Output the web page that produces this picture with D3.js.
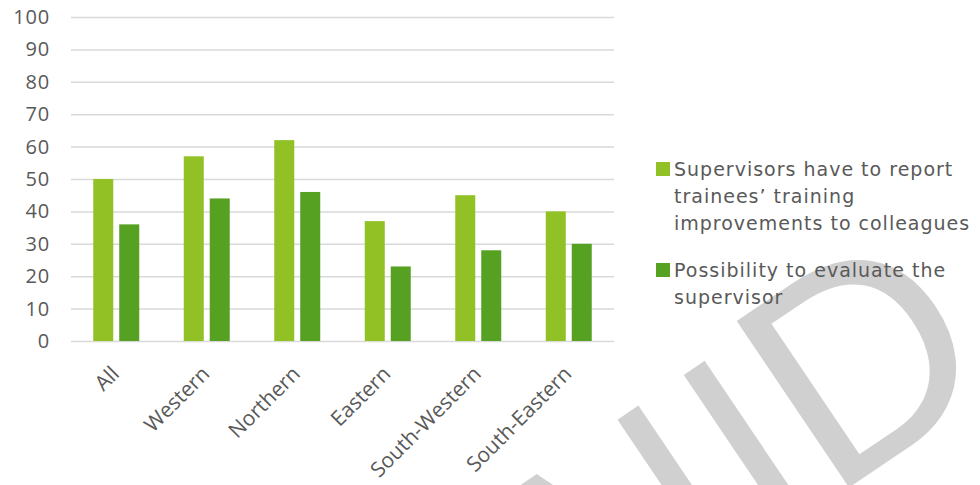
<!DOCTYPE html>
<html>
<head>
<meta charset="utf-8">
<script src="https://cdn.jsdelivr.net/npm/d3@7"></script>
<style>
  body { margin: 0; background: #fff; }
  svg { display: block; }
</style>
</head>
<body>
<div id="chart"></div>
<script>
// chart data
var categories = ["All", "Western", "Northern", "Eastern", "South-Western", "South-Eastern"];
var seriesNames = ["report", "evaluate"];
var reportValues = [50, 57, 62, 37, 45, 40];
var evaluateValues = [36, 44, 46, 23, 28, 30];
var yTicks = [0, 10, 20, 30, 40, 50, 60, 70, 80, 90, 100];
var legendLabels = [
    ["Supervisors have to report", "trainees\u2019 training", "improvements to colleagues"],
    ["Possibility to evaluate the", "supervisor"]
];
var watermarkParts = ["INVAL", "I", "D"];

var svgWidth = 980;
var svgHeight = 485;

var plot = { left: 71, right: 614, top: 17, bottom: 341 };
var colors = { report: "#92c126", evaluate: "#56a022" };
var textColor = "#595959";

var svg = d3.select("#chart")
    .append("svg")
    .attr("width", svgWidth)
    .attr("height", svgHeight);

// watermark behind everything
var wm = svg.append("text")
    .attr("transform", "translate(1004,383) rotate(-34)")
    .attr("text-anchor", "end")
    .attr("font-family", "Liberation Sans, Arial, sans-serif")
    .attr("font-size", 270)
    .attr("fill", "#d0d0d0");
wm.append("tspan").text(watermarkParts[0]);
wm.append("tspan").attr("dx", -73).text(watermarkParts[1]);
wm.append("tspan").attr("font-size", 292).text(watermarkParts[2]);

var yScale = d3.scaleLinear()
    .domain([0, 100])
    .range([plot.bottom, plot.top]);

var x0 = d3.scaleBand()
    .domain(categories)
    .range([plot.left, plot.right])
    .paddingInner(0.492)
    .paddingOuter(0.246);

var x1 = d3.scaleBand()
    .domain(seriesNames)
    .range([0, x0.bandwidth()])
    .paddingInner(0.23);

// y axis with gridlines
var leftAxis = d3.axisLeft(yScale)
    .tickValues(yTicks)
    .tickSize(-(plot.right - plot.left))
    .tickPadding(21);

var yAxis = svg.append("g")
    .attr("transform", `translate(${plot.left},0)`)
    .call(leftAxis);

yAxis.select(".domain").remove();
yAxis.selectAll(".tick line")
    .attr("stroke", "#d9d9d9")
    .attr("stroke-width", 1.5);
yAxis.selectAll(".tick text")
    .attr("fill", textColor)
    .attr("font-family", "Open Sans, sans-serif")
    .attr("font-size", 20)
    .attr("letter-spacing", "0.8px");

// bars
var rows = categories.map(function(c, i) {
    return { cat: c, report: reportValues[i], evaluate: evaluateValues[i] };
});

var groups = svg.selectAll(".cat")
    .data(rows)
    .enter().append("g")
    .attr("class", "cat")
    .attr("transform", d => `translate(${x0(d.cat)},0)`);

groups.selectAll("rect")
    .data(d => seriesNames.map(k => ({ key: k, value: d[k] })))
    .enter().append("rect")
    .attr("x", d => x1(d.key))
    .attr("width", x1.bandwidth())
    .attr("y", d => yScale(d.value))
    .attr("height", d => yScale(0) - yScale(d.value))
    .attr("fill", d => colors[d.key]);

// rotated category labels
svg.selectAll(".xlab")
    .data(categories)
    .enter().append("text")
    .attr("class", "xlab")
    .attr("transform", d => `translate(${x0(d) + x0.bandwidth() / 2 - 1},370) rotate(-45)`)
    .attr("text-anchor", "end")
    .attr("dy", "0.35em")
    .attr("fill", textColor)
    .attr("font-family", "Open Sans, sans-serif")
    .attr("font-size", 21)
    .text(d => d);

// legend
var legendTop = [176, 277];
var legend = svg.selectAll(".leg")
    .data(seriesNames)
    .enter().append("g")
    .attr("class", "leg")
    .attr("transform", (d, i) => `translate(656,${legendTop[i]})`);

legend.append("rect")
    .attr("x", 0)
    .attr("y", -14)
    .attr("width", 14)
    .attr("height", 14)
    .attr("fill", d => colors[d]);

legend.append("text")
    .attr("fill", textColor)
    .attr("font-family", "DejaVu Sans, sans-serif")
    .attr("font-size", 19)
    .attr("letter-spacing", "1px")
    .selectAll("tspan")
    .data((d, i) => legendLabels[i])
    .enter().append("tspan")
    .attr("x", 18)
    .attr("y", (d, j) => j * 27)
    .text(d => d);
</script>
</body>
</html>
